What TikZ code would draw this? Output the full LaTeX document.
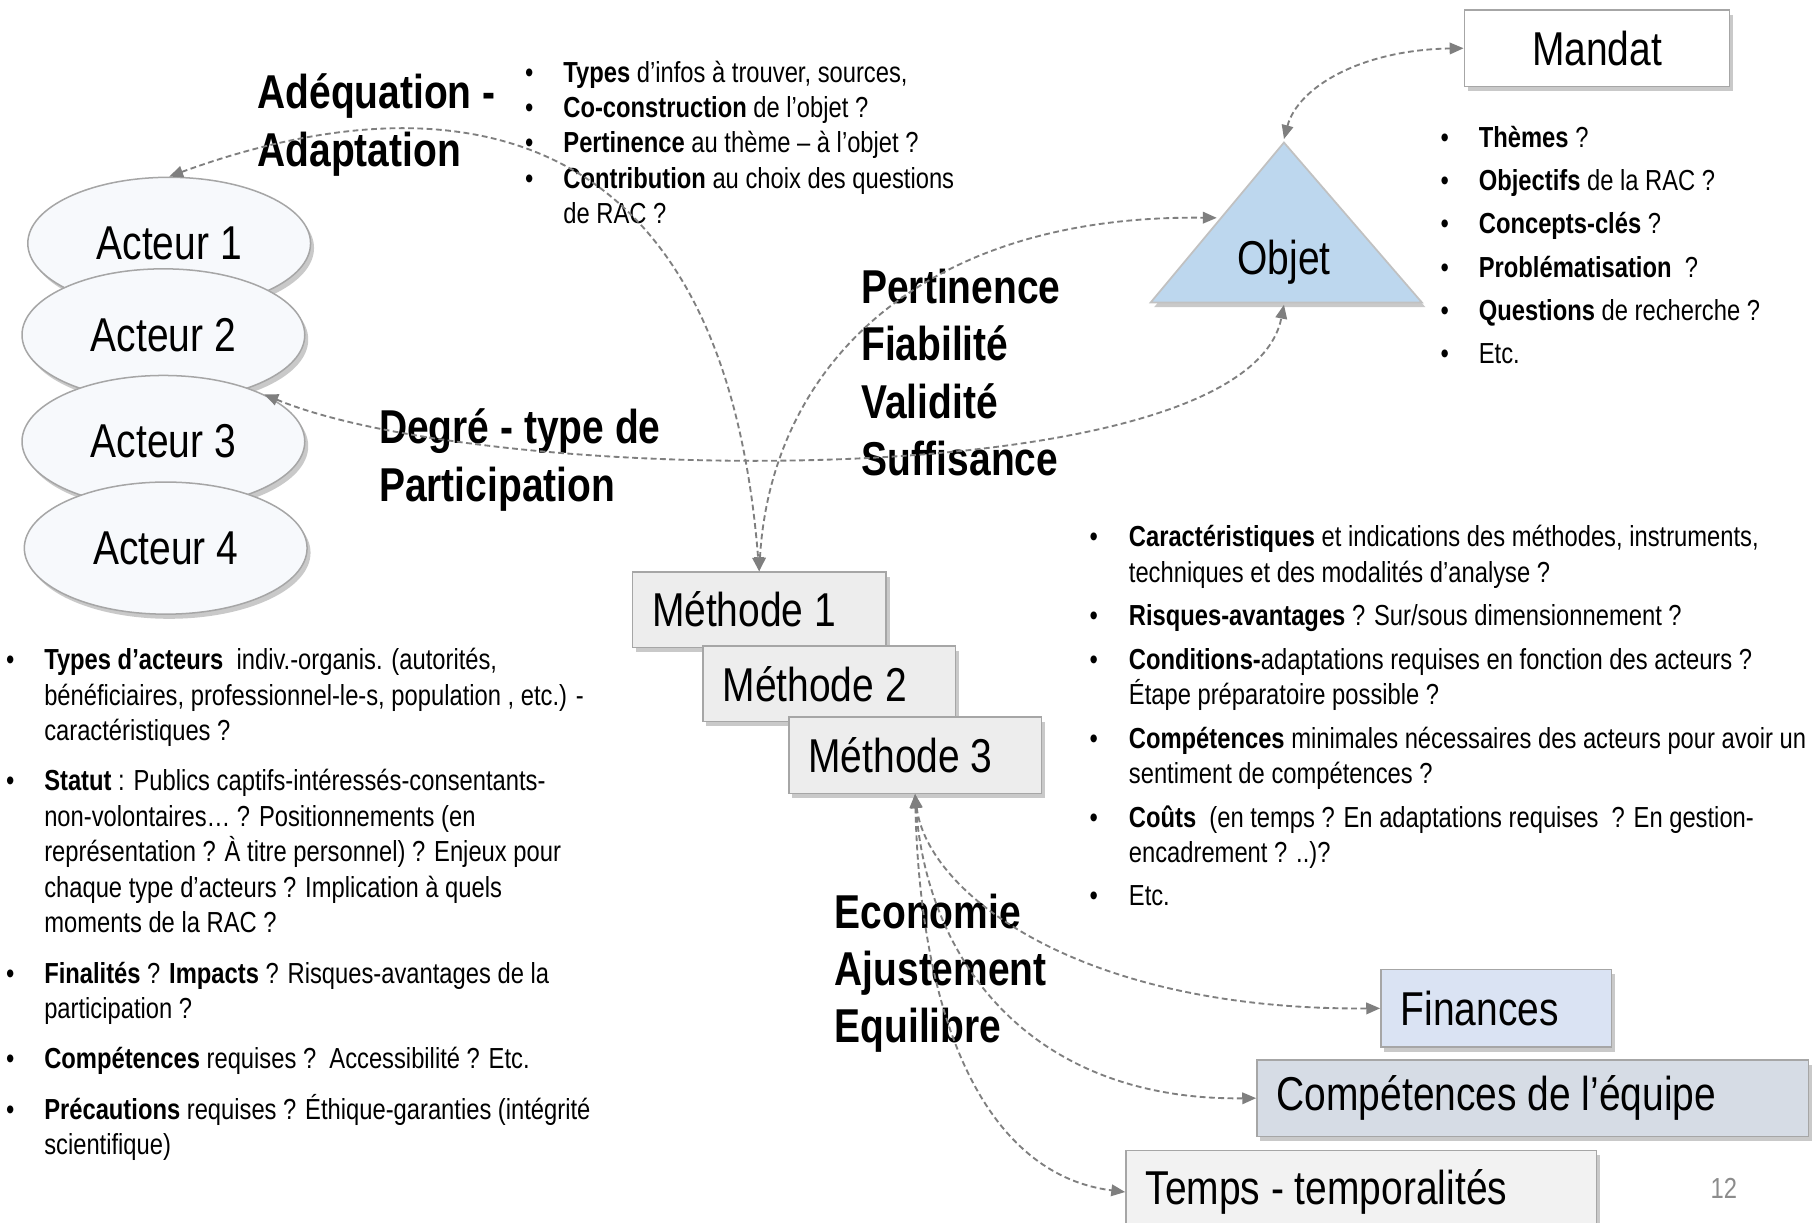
\documentclass[tikz,border=0pt]{standalone}
\usepackage{fontspec}
\setmainfont{Liberation Sans}[FakeStretch=0.82]
\usepackage{array}
\usetikzlibrary{arrows.meta,shadows,shapes.geometric}
\definecolor{linkgray}{HTML}{7F7F7F}
\definecolor{edgegray}{HTML}{A6A6A6}
\definecolor{actfill}{HTML}{F7F9FC}
\definecolor{methfill}{HTML}{EDEDED}
\definecolor{objfill}{HTML}{BDD7EE}
\definecolor{finfill}{HTML}{DAE3F3}
\definecolor{compfill}{HTML}{D6DCE5}
\definecolor{tempsfill}{HTML}{F2F2F2}
\newcommand{\boxfont}{\fontsize{41}{49}\selectfont}
\newcommand{\listfont}{\fontsize{25}{30.5}\selectfont}
\newcommand{\headfont}{\fontsize{41}{49.5}\selectfont\bfseries}
\tikzset{
	shade box/.style={drop shadow={shadow xshift=3pt, shadow yshift=-4pt, opacity=0.35, fill=black!60}},
	acteur/.style={ellipse, draw=edgegray, line width=1.3pt, fill=actfill, minimum width=244pt, minimum height=114pt, font=\boxfont, shade box},
	box/.style={draw=edgegray, line width=1.3pt, anchor=north west, inner xsep=17pt, inner ysep=0pt, align=flush left, font=\boxfont, shade box},
	list/.style={anchor=base west, inner sep=0pt, font=\listfont},
	head/.style={anchor=base west, inner sep=0pt, font=\headfont},
	link/.style={draw=linkgray, line width=1.6pt, dash pattern=on 5pt off 3pt, {Triangle[length=12pt,width=10pt]}-{Triangle[length=12pt,width=10pt]}}
}

\begin{document}
\begin{tikzpicture}[x=1pt, y=-1pt]
		%%%%% START %%%%%
		\clip (0, 0) rectangle (1568, 1055);
		\fill[white] (0, 0) rectangle (1568, 1055);
		
		% acteurs
		\node[acteur] (a1) at (146, 210) {Acteur 1};
		\node[acteur] (a2) at (141, 289) {Acteur 2};
		\node[acteur] (a3) at (141, 381) {Acteur 3};
		\node[acteur] (a4) at (143, 473) {Acteur 4};
		
		% objet et mandat
		\draw[draw=edgegray!70, line width=1.5pt, fill=objfill, shade box] (993, 261) -- (1108, 123) -- (1227, 261) -- cycle;
		\node[font=\boxfont] (objet) at (1108, 226) {Objet};
		\coordinate (objtop) at (1108, 120);
		\coordinate (objbot) at (1108, 263);
		\coordinate (objleft) at (1050, 188);
		\node[box, fill=white, text width=195pt, align=flush center, minimum height=66pt] (mandat) at (1263, 8) {Mandat};
		
		% methodes
		\node[box, fill=methfill, text width=185pt, minimum height=65pt] (m1) at (545, 493) {Méthode 1};
		\node[box, fill=methfill, text width=184pt, minimum height=65pt] (m2) at (606, 557) {Méthode 2};
		\node[box, fill=methfill, text width=184pt, minimum height=66pt] (m3) at (680, 618) {Méthode 3};
		
		% ressources
		\node[box, fill=finfill, text width=165pt, minimum height=67pt] (fin) at (1191, 836) {Finances};
		\node[box, fill=compfill, text width=442pt, minimum height=66pt] (comp) at (1084, 914) {Compétences de l’équipe};
		\node[box, fill=tempsfill, text width=372pt, minimum height=72pt] (temps) at (971, 992) {Temps - temporalités};
		
		% titres
		\node[head] (adeq) at (222, 94) {\begin{tabular}[t]{@{}l@{}}Adéquation -\\Adaptation\end{tabular}};
		\node[head] (pert) at (743, 262) {\begin{tabular}[t]{@{}l@{}}Pertinence\\Fiabilité\\Validité\\Suffisance\end{tabular}};
		\node[head] (degre) at (327, 383) {\begin{tabular}[t]{@{}l@{}}Degré - type de\\Participation\end{tabular}};
		\node[head] (eco) at (720, 801) {\begin{tabular}[t]{@{}l@{}}Economie\\Ajustement\\Equilibre\end{tabular}};
		
		% listes
		\node[list] (infolist) at (453, 71) {\begin{tabular}[t]{@{}p{33pt}@{}l@{}}
			• & \textbf{Types} d’infos à trouver, sources,\\
			• & \textbf{Co-construction} de l’objet ?\\
			• & \textbf{Pertinence} au thème – à l’objet ?\\
			• & \textbf{Contribution} au choix des questions\\
			  & de RAC ?
		\end{tabular}};
		\node[list] (objlist) at (1243, 127) {\begin{tabular}[t]{@{}p{33pt}@{}l@{}}
			• & \textbf{Thèmes} ?\\[6.9pt]
			• & \textbf{Objectifs} de la RAC ?\\[6.9pt]
			• & \textbf{Concepts-clés} ?\\[6.9pt]
			• & \textbf{Problématisation}\ \ ?\\[6.9pt]
			• & \textbf{Questions} de recherche ?\\[6.9pt]
			• & Etc.
		\end{tabular}};
		\node[list] (methlist) at (940, 472) {\begin{tabular}[t]{@{}p{34pt}@{}l@{}}
			• & \textbf{Caractéristiques} et indications des méthodes, instruments,\\
			  & techniques et des modalités d’analyse ?\\[7pt]
			• & \textbf{Risques-avantages} ? Sur/sous dimensionnement ?\\[7pt]
			• & \textbf{Conditions-}adaptations requises en fonction des acteurs ?\\
			  & Étape préparatoire possible ?\\[7pt]
			• & \textbf{Compétences} minimales nécessaires des acteurs pour avoir un\\
			  & sentiment de compétences ?\\[7pt]
			• & \textbf{Coûts}\ \ (en temps ? En adaptations requises\ \ ? En gestion-\\
			  & encadrement ? ..)?\\[7pt]
			• & Etc.
		\end{tabular}};
		\node[list] (actlist) at (5, 578) {\begin{tabular}[t]{@{}p{33pt}@{}l@{}}
			• & \textbf{Types d’acteurs}\ \ indiv.-organis. (autorités,\\
			  & bénéficiaires, professionnel-le-s, population , etc.) -\\
			  & caractéristiques ?\\[13pt]
			• & \textbf{Statut} : Publics captifs-intéressés-consentants-\\
			  & non-volontaires… ? Positionnements (en\\
			  & représentation ? À titre personnel) ? Enjeux pour\\
			  & chaque type d’acteurs ? Implication à quels\\
			  & moments de la RAC ?\\[13pt]
			• & \textbf{Finalités} ? \textbf{Impacts} ? Risques-avantages de la\\
			  & participation ?\\[13pt]
			• & \textbf{Compétences} requises ?\ \ Accessibilité ? Etc.\\[13pt]
			• & \textbf{Précautions} requises ? Éthique-garanties (intégrité\\
			  & scientifique)
		\end{tabular}};
		
		\node[list, text=black!45] (page) at (1476, 1034) {12};
		
		% liens
		\draw[link] (a1.north) .. controls (330, 85) and (620, 50) .. (m1.north);
		\draw[link] (a3.25) .. controls (420, 420) and (1075, 430) .. (objbot);
		\draw[link] (m1.north) .. controls (665, 320) and (790, 185) .. (objleft);
		\draw[link] (objtop) .. controls (1120, 75) and (1175, 43) .. (mandat.west);
		\draw[link] (m3.south) .. controls (800, 770) and (930, 872) .. (fin.west);
		\draw[link] (m3.south) .. controls (800, 830) and (890, 950) .. (comp.west);
		\draw[link] (m3.south) .. controls (795, 900) and (860, 1015) .. (temps.west);
		
		%%%%% END %%%%%
	\end{tikzpicture}
\end{document}
